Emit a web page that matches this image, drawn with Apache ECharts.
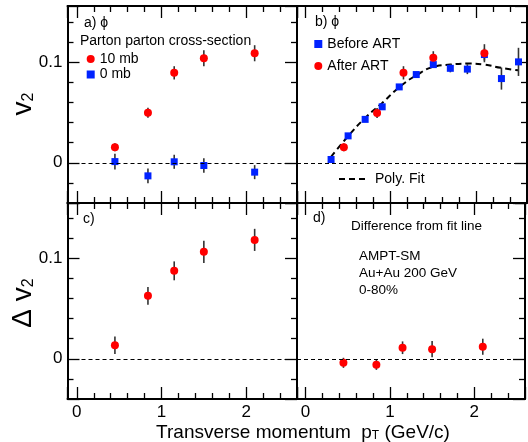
<!DOCTYPE html>
<html>
<head>
<meta charset="utf-8">
<script src="https://cdn.jsdelivr.net/npm/echarts@6/dist/echarts.min.js"></script>
<style>html,body{margin:0;padding:0;background:#fff}#c{width:528px;height:442px}</style>
</head>
<body>
<div id="c"></div>
<script>
// ---- data ----
const ptA = [0.45, 0.84, 1.15, 1.50, 2.10];
const v2_10mb = [0.0155, 0.0497, 0.0895, 0.1040, 0.1090];
const v2_10mb_err = [0.004, 0.005, 0.0066, 0.008, 0.008];
const v2_0mb = [0.0012, -0.0130, 0.0010, -0.0027, -0.0093];
const v2_0mb_err = [0.0078, 0.0073, 0.0070, 0.0073, 0.0070];

const ptB = [0.30, 0.50, 0.70, 0.90, 1.10, 1.30, 1.50, 1.70, 1.90, 2.10, 2.30, 2.50];
const v2_before = [0.0033, 0.0268, 0.0432, 0.0557, 0.0755, 0.0878, 0.0977, 0.0940, 0.0932, 0.1077, 0.0838, 0.1004];
const v2_before_err = [0.002, 0.002, 0.002, 0.002, 0.002, 0.002, 0.003, 0.004, 0.005, 0.006, 0.011, 0.014];
const v2_after = [0.0155, 0.0495, 0.0895, 0.1044, 0.1090];
const v2_after_err = [0.004, 0.005, 0.0066, 0.0066, 0.009];

const fitX = [0.30, 0.50, 0.70, 0.90, 1.10, 1.30, 1.50, 1.70, 1.90, 2.10, 2.30, 2.50];
const fitY = [0.0060, 0.0265, 0.0447, 0.0596, 0.0752, 0.0870, 0.0954, 0.0977, 0.0987, 0.0977, 0.0944, 0.0920];

const dv2 = [0.0135, 0.0626, 0.0875, 0.1064, 0.1183];
const dv2_err = [0.0088, 0.0088, 0.0094, 0.011, 0.011];
const diffFit = [-0.0040, -0.0060, 0.0110, 0.0096, 0.0120];
const diffFit_err = [0.005, 0.005, 0.0063, 0.008, 0.008];

const xTicks = [0, 1, 2];
const yTicks = [0, 0.1];

// ---- helpers ----
const FONT = "'Liberation Sans', Arial, Helvetica, sans-serif";
const RED = '#ff0000', BLUE = '#0022ff';
const zip = (xs, ys) => xs.map((x, i) => [x, ys[i]]);
const zip3 = (xs, ys, es) => xs.map((x, i) => [x, ys[i], es[i]]);

function isTick(v, list) { return list.some(t => Math.abs(t - v) < 1e-9); }

function xAx(grid, pos, min, labels) {
  return {
    type: 'value', gridIndex: grid, position: pos, min: min, max: 2.6,
    minInterval: 1, maxInterval: 1,
    axisLine: { show: true, onZero: false, lineStyle: { color: '#000', width: 2 } },
    axisTick: { show: true, inside: true, length: 12, lineStyle: { color: '#000', width: 1.3 } },
    minorTick: { show: true, splitNumber: 5, length: 6, lineStyle: { color: '#000', width: 1.3 } },
    splitLine: { show: false }, minorSplitLine: { show: false },
    axisLabel: {
      show: labels, margin: 5, color: '#000', fontSize: 17, fontFamily: FONT,
      formatter: v => isTick(v, xTicks) ? String(Math.round(v)) : ''
    }
  };
}
function yAx(grid, pos, labels, ticks) {
  return {
    type: 'value', gridIndex: grid, position: pos, min: -0.04, max: grid < 2 ? 0.156 : 0.155,
    minInterval: 0.1, maxInterval: 0.1,
    axisLine: { show: true, onZero: false, lineStyle: { color: '#000', width: 2 } },
    axisTick: { show: ticks, inside: true, length: 12, lineStyle: { color: '#000', width: 1.3 } },
    minorTick: { show: ticks, splitNumber: 5, length: 6, lineStyle: { color: '#000', width: 1.3 } },
    splitLine: { show: false }, minorSplitLine: { show: false },
    axisLabel: {
      show: labels, margin: 5, color: '#000', fontSize: 17, fontFamily: FONT,
      formatter: v => isTick(v, yTicks) ? (Math.abs(v) < 1e-9 ? '0' : String(Math.round(v * 10) / 10)) : ''
    }
  };
}

function errRender(params, api) {
  const x = api.value(0), y = api.value(1), e = api.value(2);
  const p1 = api.coord([x, y - e]), p2 = api.coord([x, y + e]);
  return { type: 'line', shape: { x1: p1[0], y1: p1[1], x2: p2[0], y2: p2[1] },
           style: { stroke: '#333', lineWidth: 1.6 } };
}
function errSeries(idx, xs, ys, es) {
  return { type: 'custom', xAxisIndex: idx, yAxisIndex: idx, renderItem: errRender,
           data: zip3(xs, ys, es), encode: { x: 0, y: 1 }, z: 2, silent: true };
}
function zeroLine() {
  return { silent: true, symbol: ['none', 'none'], label: { show: false },
           lineStyle: { color: '#000', width: 1, type: [4, 3] },
           data: [{ yAxis: 0 }], animation: false };
}
function scat(name, idx, xs, ys, color, symbol, size, withZero) {
  const s = { name: name, type: 'scatter', xAxisIndex: idx, yAxisIndex: idx,
    data: zip(xs, ys), symbol: symbol, symbolSize: size, itemStyle: { color: color, opacity: 1 }, z: 3 };
  if (withZero) s.markLine = zeroLine();
  return s;
}

const grids = [
  { left: 67.5, top: 6, width: 229.5, height: 197 },
  { left: 297, top: 6, width: 230, height: 197 },
  { left: 67.5, top: 203, width: 229.5, height: 196 },
  { left: 297, top: 203, width: 230, height: 196 }
];

const xAxes = [
  xAx(0, 'bottom', -0.11, false), xAx(1, 'bottom', -0.1, false),
  xAx(2, 'bottom', -0.11, true), xAx(3, 'bottom', -0.1, true),
  xAx(0, 'top', -0.11, false), xAx(1, 'top', -0.1, false),
  xAx(2, 'top', -0.11, false), xAx(3, 'top', -0.1, false)
];
const yAxes = [
  yAx(0, 'left', true, true), yAx(1, 'left', false, false),
  yAx(2, 'left', true, true), yAx(3, 'left', false, false),
  yAx(0, 'right', false, true), yAx(1, 'right', false, true),
  yAx(2, 'right', false, true), yAx(3, 'right', false, true)
];

const series = [
  // panel a
  errSeries(0, ptA, v2_10mb, v2_10mb_err),
  errSeries(0, ptA, v2_0mb, v2_0mb_err),
  scat('10 mb', 0, ptA, v2_10mb, RED, 'circle', 8, true),
  scat('0 mb', 0, ptA, v2_0mb, BLUE, 'rect', 7, false),
  // panel b
  { name: 'Poly. Fit', type: 'line', xAxisIndex: 1, yAxisIndex: 1, data: zip(fitX, fitY),
    smooth: true, symbol: 'none', lineStyle: { color: '#000', width: 2, type: [6, 4] }, z: 1,
    markLine: zeroLine() },
  errSeries(1, ptB, v2_before, v2_before_err),
  errSeries(1, ptA, v2_after, v2_after_err),
  scat('Before ART', 1, ptB, v2_before, BLUE, 'rect', 7, false),
  scat('After ART', 1, ptA, v2_after, RED, 'circle', 8, false),
  // panel c
  errSeries(2, ptA, dv2, dv2_err),
  scat('Δv2', 2, ptA, dv2, RED, 'circle', 8, true),
  // panel d
  errSeries(3, ptA, diffFit, diffFit_err),
  scat('Difference from fit', 3, ptA, diffFit, RED, 'circle', 8, true)
];

const txt = (x, y, text, size, extra) => Object.assign({
  type: 'text', x: x, y: y,
  style: Object.assign({ text: text, fill: '#000', font: size + 'px ' + FONT, textVerticalAlign: 'middle', verticalAlign: 'middle' }, extra || {})
});

const graphic = [
  txt(84, 23, 'a) ϕ', 14),
  txt(80, 41, 'Parton parton cross-section', 14),
  txt(315, 22, 'b) ϕ', 14),
  { type: 'line', shape: { x1: 339, y1: 179, x2: 367, y2: 179 },
    style: { stroke: '#000', lineWidth: 2, lineDash: [6, 4] } },
  txt(375, 179, 'Poly. Fit', 14),
  txt(83, 219, 'c)', 14),
  txt(313, 218, 'd)', 14),
  txt(351, 226, 'Difference from fit line', 13.5),
  txt(359, 256, 'AMPT-SM', 13.5),
  txt(359, 273, 'Au+Au 200 GeV', 13.5),
  txt(359, 290, '0-80%', 13.5),
  // y titles
  { type: 'text', x: 22, y: 104, rotation: Math.PI / 2,
    style: { text: '{v|v}{s|2}', align: 'center', verticalAlign: 'middle',
      rich: { v: { fontSize: 28, fontFamily: FONT, fill: '#000', verticalAlign: 'bottom', lineHeight: 30 },
              s: { fontSize: 16, fontFamily: FONT, fill: '#000', verticalAlign: 'bottom', lineHeight: 16 } } } },
  { type: 'text', x: 22, y: 303, rotation: Math.PI / 2,
    style: { text: '{v|Δ v}{s|2}', align: 'center', verticalAlign: 'middle',
      rich: { v: { fontSize: 28, fontFamily: FONT, fill: '#000', verticalAlign: 'bottom', lineHeight: 30 },
              s: { fontSize: 16, fontFamily: FONT, fill: '#000', verticalAlign: 'bottom', lineHeight: 16 } } } },
  // x title
  { type: 'text', x: 303, y: 428,
    style: { text: '{m|Transverse momentum  p}{s|T}{m| (GeV/c)}', align: 'center', verticalAlign: 'middle',
      rich: { m: { fontSize: 19, fontFamily: FONT, fill: '#000', verticalAlign: 'bottom', lineHeight: 28 },
              s: { fontSize: 12, fontFamily: FONT, fill: '#000', verticalAlign: 'bottom', lineHeight: 8 } } } }
];

const legendCommon = { orient: 'vertical', selectedMode: false, itemWidth: 8, itemHeight: 8,
  textStyle: { fontSize: 14, fontFamily: FONT, color: '#000' }, padding: 0 };

const option = {
  animation: false,
  backgroundColor: '#fff',
  grid: grids,
  xAxis: xAxes,
  yAxis: yAxes,
  legend: [
    Object.assign({}, legendCommon, { data: ['10 mb', '0 mb'], left: 86.7, top: 52, itemGap: 1.5 }),
    Object.assign({}, legendCommon, { data: ['Before ART', 'After ART'], left: 314.3, top: 37, itemGap: 8 })
  ],
  series: series,
  graphic: graphic
};

const chart = echarts.init(document.getElementById('c'), null, { renderer: 'canvas' });
chart.setOption(option);
</script>
</body>
</html>
